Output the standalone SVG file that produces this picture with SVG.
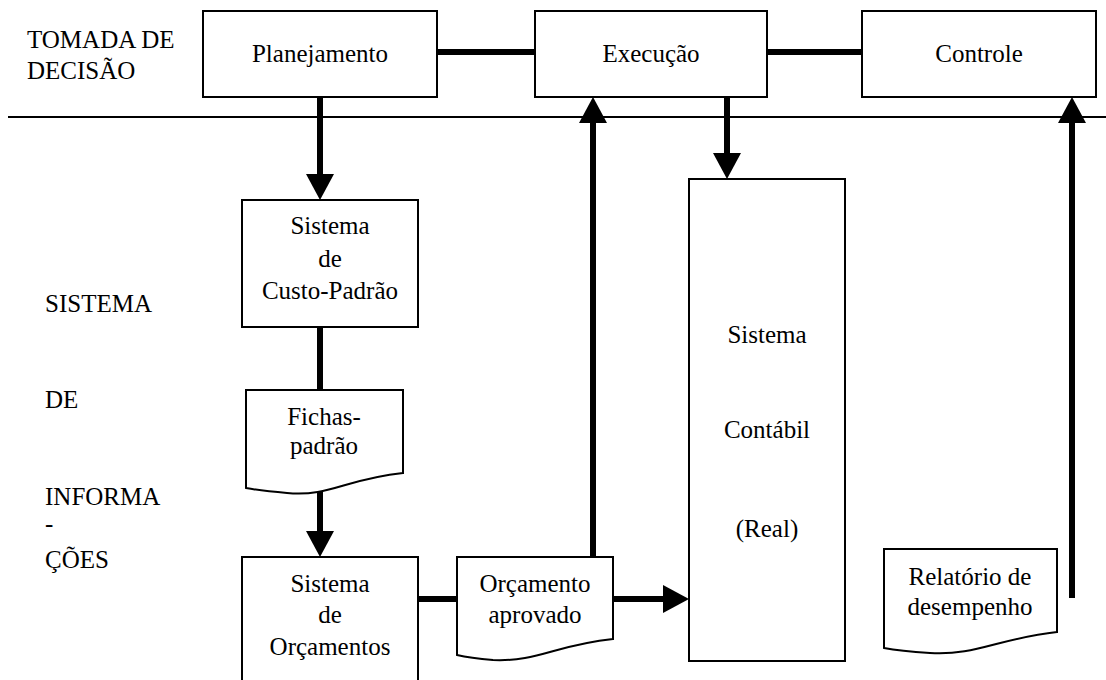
<svg xmlns="http://www.w3.org/2000/svg" width="1106" height="680" viewBox="0 0 1106 680" font-family="'Liberation Serif', 'Times New Roman', Times, 'DejaVu Serif', serif">
<style>
text{font-family:'Liberation Serif','Times New Roman',Times,'DejaVu Serif',serif;font-size:25px;fill:#000}
.c{text-anchor:middle}
.box{fill:#fff;stroke:#000;stroke-width:2}
.thick{stroke:#000;stroke-width:6;fill:none}
.thin{stroke:#000;stroke-width:2;fill:none}
</style>
<defs>
<marker id="ah" markerUnits="userSpaceOnUse" markerWidth="26" markerHeight="28" refX="0" refY="14" orient="auto">
<path d="M0,0 L26,14 L0,28 Z" fill="#000"/>
</marker>
</defs>
<rect width="1106" height="680" fill="#fff"/>
<g id="labels">
<text x="27" y="48">TOMADA DE</text>
<text x="27" y="79">DECISÃO</text>
<text x="45" y="312">SISTEMA</text>
<text x="45" y="408">DE</text>
<text x="45" y="505">INFORMA</text>
<text x="45" y="532">-</text>
<text x="45" y="568">ÇÕES</text>
</g>
<g id="connectors">
<line class="thin" x1="8" y1="117" x2="1106" y2="117"/>
<line class="thick" x1="437" y1="52" x2="535" y2="52"/>
<line class="thick" x1="767" y1="52" x2="862" y2="52"/>
<line class="thick" x1="320" y1="97" x2="320" y2="174" marker-end="url(#ah)"/>
<line class="thick" x1="320" y1="327" x2="320" y2="390"/>
<line class="thick" x1="320" y1="492" x2="320" y2="531" marker-end="url(#ah)"/>
<line class="thick" x1="418" y1="599" x2="457" y2="599"/>
<line class="thick" x1="593" y1="557" x2="593" y2="123" marker-end="url(#ah)"/>
<line class="thick" x1="727" y1="97" x2="727" y2="153" marker-end="url(#ah)"/>
<line class="thick" x1="613" y1="599" x2="663" y2="599" marker-end="url(#ah)"/>
<line class="thick" x1="1072" y1="598" x2="1072" y2="123" marker-end="url(#ah)"/>
</g>
<g id="planejamento">
<rect class="box" x="203" y="11" width="234" height="86"/>
<text class="c" x="320" y="62">Planejamento</text>
</g>
<g id="execucao">
<rect class="box" x="535" y="11" width="232" height="86"/>
<text class="c" x="651" y="62">Execução</text>
</g>
<g id="controle">
<rect class="box" x="862" y="11" width="234" height="86"/>
<text class="c" x="979" y="62">Controle</text>
</g>
<g id="custo-padrao">
<rect class="box" x="242" y="200" width="176" height="127"/>
<text class="c" x="330" y="234">Sistema</text>
<text class="c" x="330" y="267">de</text>
<text class="c" x="330" y="299">Custo-Padrão</text>
</g>
<g id="fichas-padrao">
<path class="box" d="M246,390 H403 V473 C345,479 330,497 287,493 Q262,491 246,488 Z"/>
<text class="c" x="324" y="425">Fichas-</text>
<text class="c" x="324" y="454">padrão</text>
</g>
<g id="orcamentos">
<rect class="box" x="242" y="557" width="176" height="130"/>
<text class="c" x="330" y="592">Sistema</text>
<text class="c" x="330" y="623">de</text>
<text class="c" x="330" y="655">Orçamentos</text>
</g>
<g id="orcamento-aprovado">
<path class="box" d="M457,557 H613 V639 C555,645 538,662 493,660 Q470,658 457,655 Z"/>
<text class="c" x="535" y="592">Orçamento</text>
<text class="c" x="535" y="623">aprovado</text>
</g>
<g id="contabil">
<rect class="box" x="689" y="179" width="156" height="482"/>
<text class="c" x="767" y="343">Sistema</text>
<text class="c" x="767" y="438">Contábil</text>
<text class="c" x="767" y="537">(Real)</text>
</g>
<g id="relatorio">
<path class="box" d="M884,549 H1057 V632 C1000,638 975,656 930,653 Q900,651 884,648 Z"/>
<text class="c" x="970" y="585">Relatório de</text>
<text class="c" x="970" y="615">desempenho</text>
</g>
</svg>
